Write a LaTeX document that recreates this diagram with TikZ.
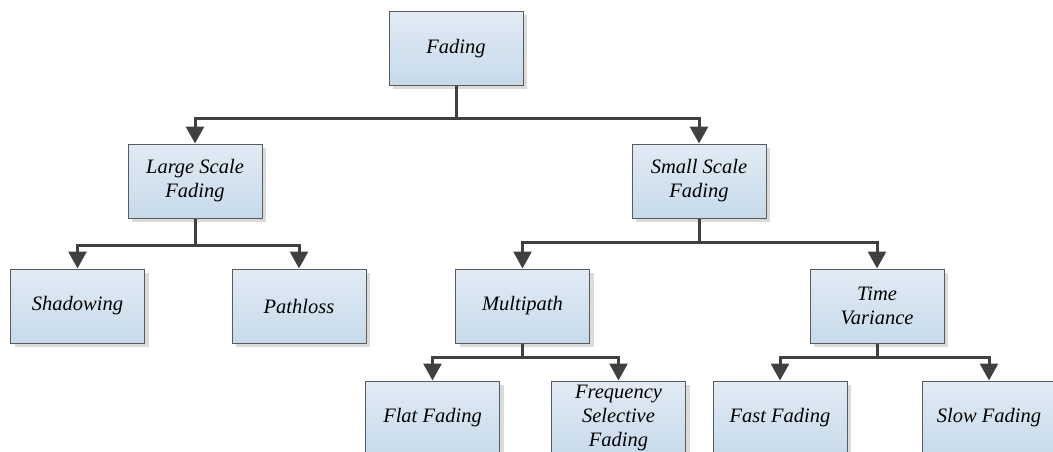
\documentclass[tikz,border=0pt]{standalone}
\usepackage{fontspec}
\setmainfont{Liberation Serif}
\usetikzlibrary{arrows.meta,shadows}
\definecolor{boxtop}{HTML}{E1EBF5}
\definecolor{boxbot}{HTML}{C7DAEA}
\definecolor{boxedge}{HTML}{5A5A5A}
\definecolor{linkcol}{HTML}{404040}
\begin{document}
\begin{tikzpicture}[x=1pt,y=-1pt,
  box/.style={draw=boxedge,line width=1pt,top color=boxtop,bottom color=boxbot,
    minimum width=134pt,minimum height=74pt,inner sep=2pt,align=center,
    font=\fontsize{20.5}{24}\selectfont\itshape,
    general shadow={shadow xshift=4pt,shadow yshift=-4pt,fill=black!14}},
  link/.style={draw=linkcol,line width=3pt,
    -{Triangle[length=17pt,width=18pt]}}]
\useasboundingbox (0,0) rectangle (1053,452);
\clip (0,0) rectangle (1053,452);
% tree of fading types
\node[box] (fad)   at (456,48.5)  {Fading};
\node[box] (large) at (195,181)   {Large Scale\\Fading};
\node[box] (small) at (699,181)   {Small Scale\\Fading};
\node[box] (shad)  at (77.5,306)  {Shadowing};
\node[box] (path)  at (299,306)   {Pathloss};
\node[box] (multi) at (522.5,306) {Multipath};
\node[box] (timev) at (877,306)   {Time\\Variance};
\node[box] (flat)  at (432.5,418) {Flat Fading};
\node[box] (freq)  at (618.5,418) {Frequency\\Selective\\Fading};
\node[box] (fast)  at (780,418)   {Fast Fading};
\node[box] (slow)  at (989,418)   {Slow Fading};
% elbow connectors
\draw[link] (fad.south) -- ++(0,32) -| (large.north);
\draw[link] (fad.south) -- ++(0,32) -| (small.north);
\draw[link] (large.south) -- ++(0,27) -| (shad.north);
\draw[link] (large.south) -- ++(0,27) -| (path.north);
\draw[link] (small.south) -- ++(0,24) -| (multi.north);
\draw[link] (small.south) -- ++(0,24) -| (timev.north);
\draw[link] (multi.south) -- ++(0,14) -| (flat.north);
\draw[link] (multi.south) -- ++(0,14) -| (freq.north);
\draw[link] (timev.south) -- ++(0,14) -| (fast.north);
\draw[link] (timev.south) -- ++(0,14) -| (slow.north);
\end{tikzpicture}
\end{document}
